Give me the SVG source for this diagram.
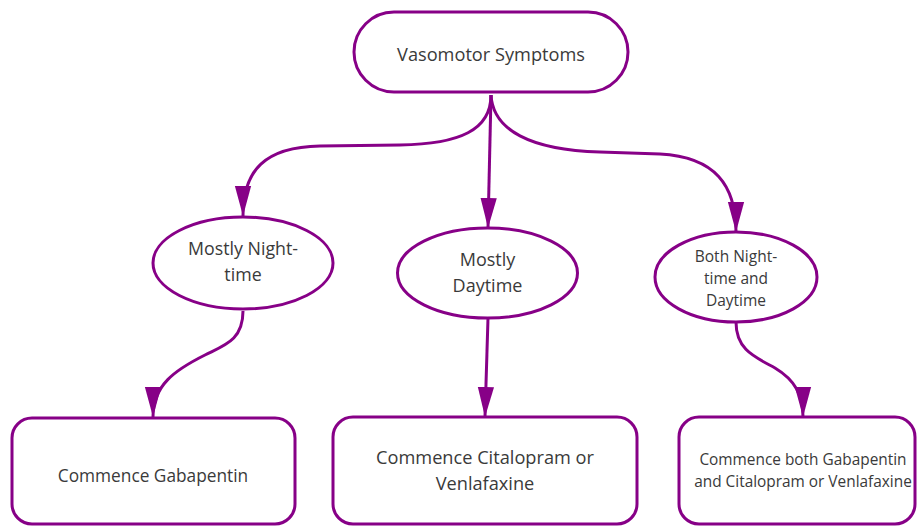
<svg xmlns="http://www.w3.org/2000/svg" width="917" height="526" viewBox="0 0 917 526">
<style>
.shape{fill:#fff;stroke:#870087;stroke-width:3}
.conn{fill:none;stroke:#870087;stroke-width:3}
text{font-family:"Open Sans","Liberation Sans",sans-serif;fill:#3a3a3a;text-anchor:middle}
</style>
<defs>
<marker id="ah" markerUnits="userSpaceOnUse" markerWidth="30" markerHeight="20" refX="24" refY="6.5" orient="auto" viewBox="0 0 24 13">
<path d="M0,0 L24,6.5 L0,13 z" fill="#870087"/>
</marker>
</defs>
<rect width="917" height="526" fill="#fff"/>
<g id="connectors">
<path class="conn" marker-end="url(#ah)" d="M491,95 C491,130 460,144 400,145 L320,146 C265,147 243,170 243,216"/>
<path class="conn" marker-end="url(#ah)" d="M491,95 L488,228"/>
<path class="conn" marker-end="url(#ah)" d="M491,95 C493,130 530,150 600,152 L660,154 C715,157 736,185 736,232"/>
<path class="conn" marker-end="url(#ah)" d="M243,311 C243,340 225,345 205,355 C175,370 153,385 153,417"/>
<path class="conn" marker-end="url(#ah)" d="M488,318 L485,417"/>
<path class="conn" marker-end="url(#ah)" d="M736,322 C736,350 755,357 775,368 C795,380 803,395 803,417"/>
</g>
<g id="vasomotor">
<rect class="shape" x="354" y="12" width="274" height="80" rx="40"/>
<text x="491" y="61" font-size="18.2">Vasomotor Symptoms</text>
</g>
<g id="night">
<ellipse class="shape" cx="243" cy="263" rx="90" ry="46"/>
<text x="243" y="255" font-size="17.8">Mostly Night-</text>
<text x="243" y="281" font-size="17.8">time</text>
</g>
<g id="day">
<ellipse class="shape" cx="487.5" cy="273" rx="90" ry="45"/>
<text x="487.5" y="266" font-size="18">Mostly</text>
<text x="487.5" y="292" font-size="18">Daytime</text>
</g>
<g id="both">
<ellipse class="shape" cx="736" cy="277" rx="81" ry="45"/>
<text x="736" y="262" font-size="15.5">Both Night-</text>
<text x="736" y="284" font-size="15.5">time and</text>
<text x="736" y="306" font-size="15.5">Daytime</text>
</g>
<g id="gabapentin">
<rect class="shape" x="12" y="418" width="283" height="106" rx="20"/>
<text x="153" y="482" font-size="17.3">Commence Gabapentin</text>
</g>
<g id="citalopram">
<rect class="shape" x="333" y="417" width="304" height="107" rx="20"/>
<text x="485" y="464" font-size="18.2">Commence Citalopram or</text>
<text x="485" y="490" font-size="18.2">Venlafaxine</text>
</g>
<g id="both-drugs">
<rect class="shape" x="679" y="417" width="236" height="107" rx="20"/>
<text x="803" y="465" font-size="15.4">Commence both Gabapentin</text>
<text x="803" y="487" font-size="15.4">and Citalopram or Venlafaxine</text>
</g>
</svg>
